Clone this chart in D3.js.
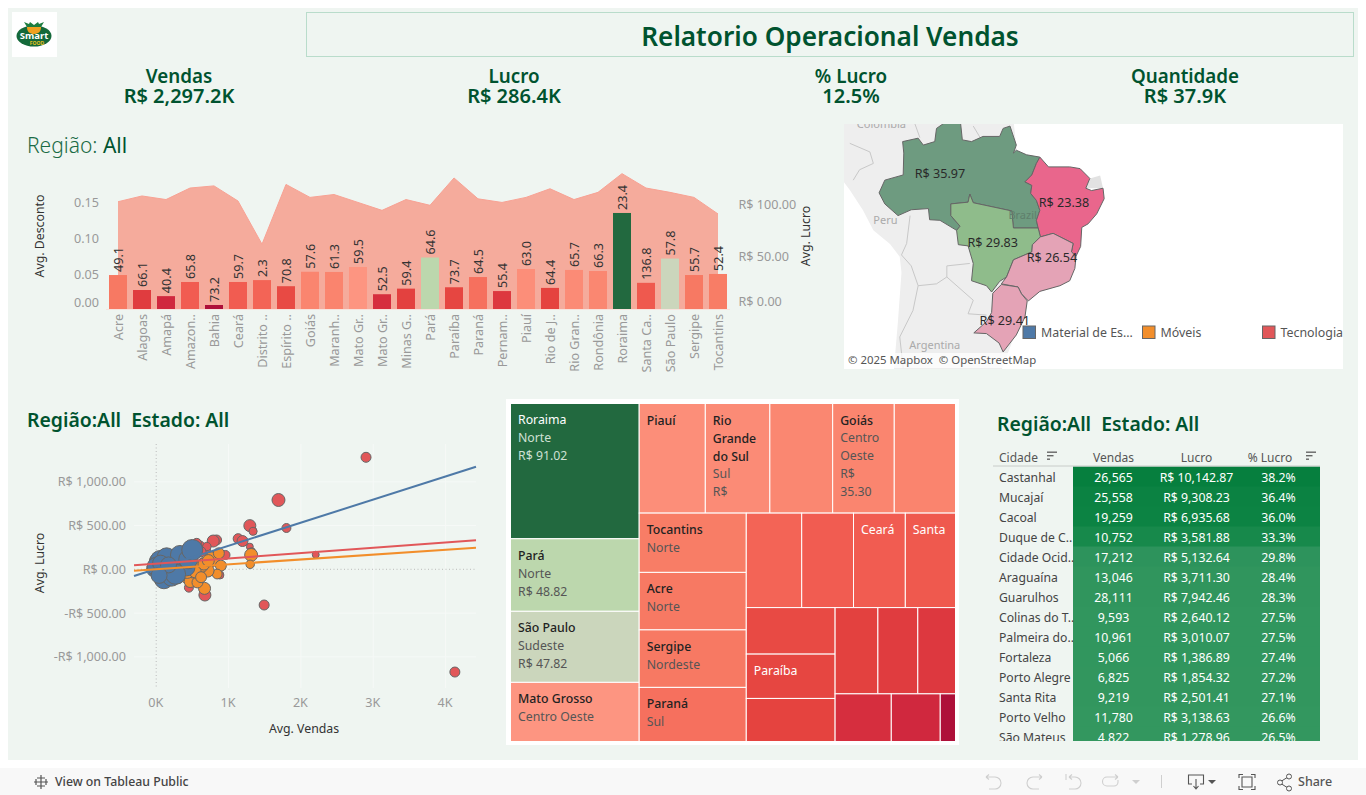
<!DOCTYPE html>
<html><head><meta charset="utf-8">
<script src="https://cdn.jsdelivr.net/npm/d3@7/dist/d3.min.js"></script>
<style>
html,body{margin:0;padding:0;background:#fff;overflow:hidden}
svg{display:block}
text{font-family:"Noto Sans",sans-serif;white-space:pre}
</style></head><body>
<svg id="c" width="1366" height="795"></svg>
<script>
// ---------- data ----------
const states=["Acre","Alagoas","Amapá","Amazonas","Bahia","Ceará","Distrito Federal","Espírito Santo","Goiás","Maranhão","Mato Grosso","Mato Grosso do Sul","Minas Gerais","Pará","Paraíba","Paraná","Pernambuco","Piauí","Rio de Janeiro","Rio Grande do Sul","Rondônia","Roraima","Santa Catarina","São Paulo","Sergipe","Tocantins"];
const stateTicks=["Acre","Alagoas","Amapá","Amazon..","Bahia","Ceará","Distrito ..","Espírito ..","Goiás","Maranh..","Mato Gr..","Mato Gr..","Minas G..","Pará","Paraíba","Paraná","Pernam..","Piauí","Rio de J..","Rio Gran..","Rondônia","Roraima","Santa Ca..","São Paulo","Sergipe","Tocantins"];
const stateLucro=[32.2,18,12.2,25.6,3.8,25.6,27.4,21.6,35.3,35.1,39.8,14,19.3,48.82,20.6,30.3,17,37.9,20,37,36,91.02,24.8,47.82,32.2,33.2];
const stateDesconto=[0.149,0.157,0.152,0.168,0.171,0.150,0.090,0.173,0.155,0.159,0.148,0.137,0.152,0.144,0.182,0.153,0.148,0.155,0.167,0.152,0.162,0.188,0.168,0.162,0.155,0.132];
const stateBarLabels=["49.1","66.1","40.4","65.8","73.2","59.7","2.3","70.8","57.6","61.3","59.5","52.5","59.4","64.6","73.7","64.5","55.4","63.0","64.4","65.7","66.3","23.4","136.8","57.8","55.7","52.4"];
const lucroStops=[3.8,13,20,26,33,40,47.8,48.82,91.02];
const lucroColors=["#ae1039","#d32a3e","#e5433f","#f25e52","#f87c65","#fd9682","#cbd6bc","#bcd7ad","#22693f"];

const kpiNames=["Vendas","Lucro","% Lucro","Quantidade"];
const kpiValues=["R$ 2,297.2K","R$ 286.4K","12.5%","R$ 37.9K"];

const treeShape={t:"dice",c:[
 {t:"slice",c:["Roraima","Pará","São Paulo","Mato Grosso"]},
 {t:"slice",c:[
  {t:"dice",c:["Piauí","Rio Grande do Sul","Rondônia","Goiás","Maranhão"]},
  {t:"dice",c:[
   {t:"slice",c:["Tocantins","Acre","Sergipe","Paraná"]},
   {t:"slice",c:[
    {t:"dice",c:["Distrito Federal","Amazonas","Ceará","Santa Catarina"]},
    {t:"dice",c:[
     {t:"slice",c:["Espírito Santo","Paraíba","Rio de Janeiro"]},
     {t:"slice",c:[
      {t:"dice",c:["Minas Gerais","Alagoas","Pernambuco"]},
      {t:"dice",c:["Mato Grosso do Sul","Amapá","Bahia"]}]}]}]}]}]}]};
const treeLabels={"Roraima":[["Roraima"],["Norte","R$ 91.02"]],"Pará":[["Pará"],["Norte","R$ 48.82"]],"São Paulo":[["São Paulo"],["Sudeste","R$ 47.82"]],"Mato Grosso":[["Mato Grosso"],["Centro Oeste"]],"Piauí":[["Piauí"],[]],"Rio Grande do Sul":[["Rio","Grande","do Sul"],["Sul","R$"]],"Goiás":[["Goiás"],["Centro","Oeste","R$","35.30"]],"Tocantins":[["Tocantins"],["Norte"]],"Acre":[["Acre"],["Norte"]],"Sergipe":[["Sergipe"],["Nordeste"]],"Paraná":[["Paraná"],["Sul"]],"Ceará":[["Ceará"],[]],"Santa Catarina":[["Santa"],[]],"Paraíba":[["Paraíba"],[]]};
const treeWhite=["Roraima","Ceará","Santa Catarina","Paraíba"];

const categories=["Material de Es…","Móveis","Tecnologia"];
const catColors=["#4e79a7","#f28e2b","#e15759"];
// [avg vendas, avg lucro, quantidade]
const pointsTec=[[2900,1280,25],[1690,792,42],[1294,499,36],[1340,434,16],[1800,472,20],[2205,167,12],[4128,-1174,25],[1492,-408,25],[1133,350,25],[1193,323,30],[1294,259,12],[1317,202,16],[834,335,25],[788,323,36],[604,266,25],[696,221,16],[958,164,20],[880,-65,16],[673,-294,36],[452,-210,20],[800,170,14],[500,170,25],[640,80,20],[560,300,22],[700,260,18],[620,200,25]];
const pointsMov=[[1312,164,42],[1299,57,18],[765,114,56],[866,183,30],[894,42,30],[843,-54,24],[710,-15,42],[581,-65,36],[668,-218,36],[535,-122,48],[420,-84,42],[627,38,42],[470,-140,36],[570,-150,30],[500,-30,36],[660,60,36],[430,-30,42],[540,-30,36],[620,-90,30],[720,100,36]];
const pointsMat=[[300,-90,42],[100,30,80],[0,40,50],[-30,0,56],[60,-30,70],[150,-10,90],[270,20,70],[420,20,70],[-40,30,36],[20,90,70],[120,60,90],[220,80,90],[52,106,90],[6,30,90],[236,106,90],[144,137,90],[107,-114,90],[213,-84,90],[268,-57,100],[328,164,90],[443,114,90],[498,221,110],[60,70,64],[170,50,64],[40,-70,64]];
const trendX=[-307,4420];
const trendLines=[[-76,1172],[45,331],[-16,247]];
const trendColors=["#4e79a7","#e15759","#f28e2b"];

const regionNames=["Norte","Nordeste","Centro Oeste","Sudeste","Sul"];
const regionValues=["R$ 35.97","R$ 23.38","R$ 29.83","R$ 26.54","R$ 29.41"];
const regionColors=["#6e9b80","#e9668c","#8fbc8b","#e4a3b6","#e4a3b6"];
const regionLabelAt=[[-63.4,-4.7],[-41.8,-9.7],[-54.2,-16.4],[-43.9,-18.9],[-52.1,-28.9]];
const regionRings=[
[[-69.9,.8],[-67.2,1.4],[-66.3,.2],[-64.3,.8],[-64,3.1],[-61.4,4.9],[-59.9,4.9],[-59.5,1.1],[-57.9,.8],[-55.9,1.7],[-53,1.7],[-52.4,3.1],[-51.2,3.5],[-50.1,.2],[-50.6,-1.2],[-50.1,-.7],[-48.3,-1.5],[-46,-1.9],[-46.6,-3],[-47.4,-5],[-48.6,-6.2],[-47.4,-6.8],[-47.6,-8.2],[-46.6,-9.4],[-46,-11.1],[-46.6,-12.8],[-46.3,-14.1],[-48.3,-14.1],[-50.6,-14.1],[-50.9,-11.2],[-57.6,-9.8],[-58.2,-8.3],[-58.5,-9.7],[-61.5,-10],[-61.5,-12],[-59.9,-13.8],[-60.5,-14.5],[-63.4,-12.8],[-65.2,-12.7],[-65.4,-10.8],[-68.4,-11],[-70.7,-12],[-73,-10],[-74,-8.1],[-73,-5.9],[-69.8,-5],[-69.7,-1.2]],
[[-46,-1.9],[-44.5,-3.6],[-40.8,-3.6],[-39,-3.9],[-37.3,-5.6],[-38,-7.3],[-37,-7.7],[-35,-7.3],[-34.8,-9.1],[-36.1,-11.7],[-37.6,-13.4],[-38.7,-14],[-38.9,-17.2],[-39.7,-18.8],[-40.5,-18.1],[-40.2,-16.7],[-43.7,-15],[-45.9,-15.6],[-46.3,-14.1],[-46.6,-12.8],[-46,-11.1],[-46.6,-9.4],[-47.6,-8.2],[-47.4,-6.8],[-48.6,-6.2],[-47.4,-5],[-46.6,-3]],
[[-58.2,-8.3],[-57.6,-9.8],[-50.9,-11.2],[-50.6,-14.1],[-46.3,-14.1],[-45.9,-15.6],[-47.3,-16.9],[-47.4,-18.1],[-50.6,-19.4],[-51.8,-22.2],[-53,-22.9],[-54.4,-24.6],[-55.3,-23.6],[-57.9,-22.8],[-57.6,-20],[-58.5,-17.1],[-60.2,-16.9],[-60.5,-14.5],[-59.9,-13.8],[-61.5,-12],[-61.5,-10],[-58.5,-9.7]],
[[-45.9,-15.6],[-43.7,-15],[-40.2,-16.7],[-40.5,-18.1],[-39.7,-18.8],[-39.9,-20.8],[-40.8,-22.8],[-42.5,-23.6],[-46,-24.5],[-48,-26],[-49.2,-24.9],[-49.8,-23.8],[-52.7,-23.3],[-51.8,-22.2],[-50.6,-19.4],[-47.4,-18.1],[-47.3,-16.9]],
[[-52.7,-23.4],[-49.8,-23.8],[-49.2,-24.9],[-48.2,-26],[-48.6,-28.5],[-50.1,-31.2],[-52.4,-33.7],[-53.1,-32.4],[-55.3,-31],[-57.5,-30.9],[-55.3,-29.2],[-54.4,-27.8],[-54.2,-24.8]]];
const landRing=[[-80.84,4.6],[-50.6,4.6],[-50.1,-.1],[-48.3,-18.3],[-48.3,-26],[-53,-37],[-71.5,-37],[-70.7,-29],[-70.1,-21.5],[-70.4,-18.9],[-72.1,-16.8],[-75,-14.5],[-76.8,-11.1],[-79.1,-7.6],[-80.84,-5.3]];
const landRing2=[[-37.3,-5.6],[-35.5,-5.1],[-35,-7.3],[-38,-7.3]];
const borderLines=[[[-79.1,.5],[-75.6,-1],[-75,-3],[-77.4,-4.1],[-78.5,-5.9]],[[-68.6,-12],[-69.2,-16.7],[-70.1,-18.6],[-68.4,-20.4],[-67.2,-23.6]],[[-67.2,-23.6],[-64,-23.3],[-62.2,-22.2],[-62.2,-20.4],[-58.2,-20]],[[-62.2,-22.2],[-57.6,-25.9],[-58.5,-28],[-55.3,-28.2]],[[-67.2,-23.6],[-68.1,-27.5],[-70.4,-31.5],[-69.8,-36]],[[-67.8,4],[-66.9,1.5]],[[-57.6,3.5],[-56.4,1.5]]];
const mapNames=["Brazil","Peru","Colombia","Argentina"];
const mapNameAt=[[-49,-12],[-72.9,-12.9],[-73.6,3.6],[-64.3,-32.8]];

const cidades=["Castanhal","Mucajaí","Cacoal","Duque de C..","Cidade Ocid..","Araguaína","Guarulhos","Colinas do T..","Palmeira do..","Fortaleza","Porto Alegre","Santa Rita","Porto Velho","São Mateus"];
const cidVendas=[26565,25558,19259,10752,17212,13046,28111,9593,10961,5066,6825,9219,11780,4822];
const cidLucro=[10142.87,9308.23,6935.68,3581.88,5132.64,3711.30,7942.46,2640.12,3010.07,1386.89,1854.32,2501.41,3138.63,1278.96];
const cidPct=[38.2,36.4,36.0,33.3,29.8,28.4,28.3,27.5,27.5,27.4,27.2,27.1,26.6,26.5];

// ---------- setup ----------
const DG="#00532f", GR="#999", AX="#444";
const svg=d3.select("#c");
svg.append("rect").attr("x",8).attr("y",8).attr("width",1350).attr("height",752).attr("fill","#eff5f1");
svg.append("rect").attr("x",0).attr("y",768).attr("width",1366).attr("height",27).attr("fill","#f8f8f8");
const txt=(g,x,y,s,o={})=>g.append("text").attr("x",x).attr("y",y+3.2).text(s)
  .attr("font-size",o.size||12).attr("fill",o.fill||AX).attr("font-weight",o.w||400)
  .attr("text-anchor",o.a||"start").attr("dominant-baseline","middle");
const lucroColor=d3.scaleLinear().domain(lucroStops).range(lucroColors);
const byState=new Map(states.map((s,i)=>[s,stateLucro[i]]));

// logo
const logo=svg.append("g");
logo.append("rect").attr("x",12).attr("y",12).attr("width",45).attr("height",45).attr("fill","#fff");
logo.append("ellipse").attr("cx",34).attr("cy",36).attr("rx",17.5).attr("ry",10.5).attr("fill","#14693a");
logo.append("path").attr("d","M27 27h14c0 5-3 7-7 7s-7-2-7-7z").attr("fill","#f0a020");
logo.append("path").attr("d","M27 27l-3-5 5 2 1-2 4 3 4-3 1 2 5-2-3 5z").attr("fill","#1e7d3f");
logo.append("text").attr("x",34).attr("y",39).attr("text-anchor","middle").attr("font-size",9.5).attr("font-weight",700).attr("fill","#fff").text("Smart");
logo.append("text").attr("x",37).attr("y",44.5).attr("text-anchor","middle").attr("font-size",5).attr("font-weight",700).attr("fill","#e8c020").text("FOOD");

// title
svg.append("rect").attr("x",306.5).attr("y",12.5).attr("width",1047).attr("height",44).attr("fill","none").attr("stroke","#b9dccb");
txt(svg,830,35.5,"Relatorio Operacional Vendas",{size:26.2,fill:DG,w:600,a:"middle"});

// KPI
const kpiCx=[179,514,851,1185];
kpiNames.forEach((n,i)=>{
  const t=txt(svg,kpiCx[i],75,"",{size:20,fill:DG,w:600,a:"middle"});
  t.append("tspan").attr("x",kpiCx[i]).attr("font-size",18.8).text(n);
  t.append("tspan").attr("x",kpiCx[i]).attr("dy",19.6).text(kpiValues[i]);
});

// region title
const rt=txt(svg,27,143.5,"",{size:21,fill:"#1b6b45",w:300});
rt.append("tspan").text("Região: ");
rt.append("tspan").attr("font-weight",400).attr("fill",DG).text("All");

// ---------- bar + area chart ----------
const bx=d3.scaleBand().domain(states).range([106,730]).paddingInner(0.25).paddingOuter(0.125);
const yLucro=d3.scaleLinear().domain([0,100]).range([309,203.5]);
const yDesc=d3.scaleLinear().domain([0,0.15]).range([309,201]);
const cxb=s=>bx(s)+bx.bandwidth()/2;
const bar=svg.append("g");
const area=d3.area().x(d=>cxb(d[0])).y0(309).y1(d=>yDesc(d[1]));
const line=d3.line().x(d=>cxb(d[0])).y(d=>yDesc(d[1]));
const pairs=states.map((s,i)=>[s,stateDesconto[i]]);
bar.append("path").attr("d",area(pairs)).attr("fill","#f5ab9c");
bar.append("path").attr("d",line(pairs)).attr("fill","none").attr("stroke","#f8a294").attr("stroke-width",1);
bar.append("line").attr("x1",106).attr("x2",730).attr("y1",309.5).attr("y2",309.5).attr("stroke","#f7e3dd");
bar.selectAll("rect.b").data(states).join("rect").attr("class","b")
  .attr("x",d=>bx(d)).attr("width",bx.bandwidth())
  .attr("y",d=>yLucro(byState.get(d))).attr("height",d=>309-yLucro(byState.get(d)))
  .attr("fill",d=>lucroColor(byState.get(d)));
bar.selectAll("text.bl").data(states).join("text").attr("class","bl")
  .attr("transform",d=>`translate(${cxb(d)+1.5},${yLucro(byState.get(d))-3}) rotate(-90)`)
  .attr("dominant-baseline","middle").attr("font-size",12.6).attr("fill","#333")
  .text((d,i)=>stateBarLabels[i]);
// axes
const ax1=bar.append("g").attr("transform","translate(99,1)")
  .call(d3.axisLeft(yDesc).tickValues([0,0.05,0.1,0.15]).tickFormat(d3.format(".2f")).tickSize(0).tickPadding(0));
const ax2=bar.append("g").attr("transform","translate(738.5,0.5)")
  .call(d3.axisRight(yLucro).tickValues([0,50,100]).tickFormat(d=>"R$ "+d3.format(".2f")(d)).tickSize(0).tickPadding(0));
const axb=bar.append("g").attr("transform","translate(0,309)")
  .call(d3.axisBottom(bx).tickFormat((d,i)=>stateTicks[i]).tickSize(0).tickPadding(0));
[ax1,ax2,axb].forEach(a=>{a.select(".domain").remove();a.selectAll("text").attr("font-family",'"Noto Sans",sans-serif').attr("font-size",12.6).attr("fill",GR);});
axb.selectAll("text").attr("transform","translate(1.5,5) rotate(-90)").attr("text-anchor","end").attr("x",0).attr("y",0).attr("dy",0).attr("dominant-baseline","middle");
[ax1,ax2].forEach(a=>a.selectAll("g.tick").filter(d=>d===0).select("text").attr("transform","translate(0,-8)"));
txt(bar,0,0,"Avg. Desconto",{size:12.3,fill:"#333",a:"middle"}).attr("transform","translate(37.5,236) rotate(-90)");
txt(bar,0,0,"Avg. Lucro",{size:12.3,fill:"#333",a:"middle"}).attr("transform","translate(803,236) rotate(-90)");

// ---------- map ----------
const mapG=svg.append("g");
svg.append("clipPath").attr("id","mc").append("rect").attr("x",844).attr("y",124).attr("width",499).attr("height",245);
mapG.attr("clip-path","url(#mc)");
mapG.append("rect").attr("x",844).attr("y",124).attr("width",499).attr("height",245).attr("fill","#fff");
const proj=d3.geoMercator().scale(329).translate([1304,146.2]).center([0,0]).precision(0.2);
const geo=d3.geoPath(proj);
const poly=r=>({type:"Polygon",coordinates:[[...r,r[0]]]});
mapG.append("path").attr("d",geo(poly(landRing))).attr("fill","#eeeeee");
mapG.append("path").attr("d",geo(poly(landRing2))).attr("fill","#e2e2e2");
mapG.append("path").attr("d",geo({type:"MultiLineString",coordinates:borderLines})).attr("fill","none").attr("stroke","#c8c8c8");
mapG.selectAll("path.r").data(regionRings).join("path").attr("class","r").attr("d",d=>geo(poly(d)))
  .attr("fill",(d,i)=>regionColors[i]).attr("stroke","#666").attr("stroke-width",1);
mapNames.forEach((n,i)=>{const p=proj(mapNameAt[i]);txt(mapG,p[0],p[1]-3.2,n,{size:11,fill:i==0?"#5f7f6c":"#aaa",a:"middle"});});
regionValues.forEach((v,i)=>{const p=proj(regionLabelAt[i]);txt(mapG,p[0],p[1]-1.7,v,{size:12.6,fill:"#2a2a2a",a:"middle"});});
mapG.append("rect").attr("x",846).attr("y",353).attr("width",190).attr("height",15).attr("fill","#fff").attr("opacity",0.75);
txt(mapG,848,357.5,"© 2025 Mapbox  © OpenStreetMap",{size:11.4,fill:"#555"});
// legend
const legX=[1023,1142.5,1262.5];
categories.forEach((c,i)=>{
  svg.append("rect").attr("x",legX[i]).attr("y",326).attr("width",12.5).attr("height",12.5).attr("fill",catColors[i]).attr("stroke","#666");
  txt(svg,legX[i]+18,330,c,{size:12.4,fill:"#555"});
});

// ---------- scatter ----------
const sc=svg.append("g");
const sx=d3.scaleLinear().domain([-300,4420]).range([134.5,476]);
const sy=d3.scaleLinear().domain([-1000,1000]).range([656.8,481.8]);
const sr=d3.scaleSqrt().domain([0,100]).range([0,10]);
txt(sc,27,419,"Região:All  Estado: All",{size:19.4,fill:DG,w:600});
[1000,2000,3000,4000].forEach(v=>sc.append("line").attr("x1",sx(v)).attr("x2",sx(v)).attr("y1",444).attr("y2",688).attr("stroke","#f6f9f7"));
[-1000,-500,500,1000].forEach(v=>sc.append("line").attr("x1",134).attr("x2",476).attr("y1",sy(v)).attr("y2",sy(v)).attr("stroke","#f6f9f7"));
sc.append("line").attr("x1",sx(0)).attr("x2",sx(0)).attr("y1",444).attr("y2",688).attr("stroke","#bbb").attr("stroke-dasharray","1,2.5");
sc.append("line").attr("x1",134).attr("x2",476).attr("y1",sy(0)).attr("y2",sy(0)).attr("stroke","#bbb").attr("stroke-dasharray","1,2.5");
const axX=sc.append("g").attr("transform","translate(-1,688)").call(d3.axisBottom(sx).tickValues([0,1000,2000,3000,4000]).tickFormat(d=>d/1000+"K").tickSize(0).tickPadding(10.5));
const axY=sc.append("g").attr("transform","translate(126,0)").call(d3.axisLeft(sy).tickValues([-1000,-500,0,500,1000]).tickFormat(d=>(d<0?"-":"")+"R$ "+d3.format(",.2f")(Math.abs(d))).tickSize(0).tickPadding(0));
[axX,axY].forEach(a=>{a.select(".domain").remove();a.selectAll("text").attr("font-family",'"Noto Sans",sans-serif').attr("font-size",12.6).attr("fill",GR);});
txt(sc,304,726.5,"Avg. Vendas",{size:12.3,fill:"#333",a:"middle"});
txt(sc,0,0,"Avg. Lucro",{size:12.3,fill:"#333",a:"middle"}).attr("transform","translate(37,563) rotate(-90)");
[[pointsTec,2],[pointsMov,1],[pointsMat,0]].forEach(([pts,ci])=>{
  sc.append("g").selectAll("circle").data(pts).join("circle")
   .attr("cx",d=>sx(d[0])).attr("cy",d=>sy(d[1])).attr("r",d=>sr(d[2]))
   .attr("fill",catColors[ci]).attr("stroke","#666").attr("stroke-width",1);
});
trendLines.forEach((l,i)=>{
  sc.append("line").attr("x1",sx(trendX[0])).attr("x2",sx(trendX[1])).attr("y1",sy(l[0])).attr("y2",sy(l[1]))
    .attr("stroke",trendColors[i]).attr("stroke-width",2);
});

// ---------- treemap ----------
svg.append("rect").attr("x",506).attr("y",399).attr("width",453).attr("height",346).attr("fill","#fff");
const root=d3.hierarchy(treeShape,d=>d.c?d.c.map(x=>typeof x==="string"?{n:x}:x):null)
  .sum(d=>d.n?byState.get(d.n):0);
d3.treemap().size([445,338]).round(false).tile((n,a,b,c,e)=>
  (n.data.t==="dice"?d3.treemapDice:d3.treemapSlice)(n,a,b,c,e))(root);
const tm=svg.append("g").attr("transform","translate(510.5,403.5)");
const leaves=tm.selectAll("g").data(root.leaves()).join("g").attr("transform",d=>`translate(${d.x0},${d.y0})`);
leaves.append("rect").attr("width",d=>d.x1-d.x0).attr("height",d=>d.y1-d.y0)
  .attr("fill",d=>lucroColor(byState.get(d.data.n))).attr("stroke","#fff").attr("stroke-width",1);
leaves.each(function(d){
  const lab=treeLabels[d.data.n]; if(!lab) return;
  const g=d3.select(this),white=treeWhite.includes(d.data.n);let y=14.5;
  lab[0].forEach(t=>{txt(g,7.5,y,t,{size:12.3,fill:white?"#fff":"#222",w:white?400:500});y+=18;});
  lab[1].forEach(t=>{txt(g,7.5,y,t,{size:12.3,fill:d.data.n==="Roraima"?"#cfe0d4":"#555"});y+=18;});
});

// ---------- table ----------
const tb=svg.append("g");
txt(tb,997,423,"Região:All  Estado: All",{size:19.4,fill:DG,w:600});
svg.append("clipPath").attr("id","tc").append("rect").attr("x",990).attr("y",466).attr("width",340).attr("height",275);
const pctColor=d3.scaleLinear().domain([26.5,29.8,33.3,36,38.2]).range(["#33975f","#2d935c","#17894b","#0c8343","#067f3e"]);
const rowY=d3.scaleBand().domain(cidades).range([466.5,746.5]);
const body=tb.append("g").attr("clip-path","url(#tc)");
const row=body.selectAll("g").data(cidades).join("g").attr("transform",d=>`translate(0,${rowY(d)})`);
row.append("rect").attr("x",1073).attr("width",247).attr("height",rowY.bandwidth()+.5).attr("fill",(d,i)=>pctColor(cidPct[i]));
row.each(function(d,i){const g=d3.select(this);
  txt(g,999,9,d,{size:12.2,fill:"#444"});
  txt(g,1113.5,9,d3.format(",")(cidVendas[i]),{size:12.3,fill:"#fff",a:"middle"});
  txt(g,1196.5,9,"R$ "+d3.format(",.2f")(cidLucro[i]),{size:12.3,fill:"#fff",a:"middle"});
  txt(g,1278.5,9,d3.format(".1f")(cidPct[i])+"%",{size:12.3,fill:"#fff",a:"middle"});
});
tb.append("line").attr("x1",993).attr("x2",1320).attr("y1",466).attr("y2",466).attr("stroke","#c8ccc9");
const heads=[["Cidade",999,"start"],["Vendas",1113.5,"middle"],["Lucro",1196.5,"middle"],["% Lucro",1270,"middle"]];
heads.forEach(h=>txt(tb,h[1],455.5,h[0],{size:12,fill:"#555",a:h[2]}));
[1047,1306].forEach(x=>{
  [10,6.5,3].forEach((w,i)=>tb.append("rect").attr("x",x).attr("y",451.5+i*3.5).attr("width",w).attr("height",1.4).attr("fill","#666"));
});

// ---------- footer ----------
const ft=svg.append("g");
ft.append("path").attr("d","M41 775v14M34 782h14M37 778h8M37 786h8M36 779v6M46 779v6").attr("stroke","#555").attr("stroke-width",1.2).attr("fill","none");
txt(ft,55,779.5,"View on Tableau Public",{size:12.3,fill:"#444",w:500});
const ic="#cfcfcf";
const ps=[
 "M986 777h3M986 777l3-2.5M986 777l3 2.5M989 777h6a6 6 0 0 1 0 12h-6",
 "M1042 777h-3M1042 777l-3-2.5M1042 777l-3 2.5M1039 777h-6a6 6 0 0 0 0 12h6",
 "M1066 774v6M1069 777l3-2.5M1069 777l3 2.5M1069 777h6a6 6 0 0 1 0 12h-6",
 "M1118 777l-3-2.5M1118 777l-3 2.5M1118 777h-11a4 4 0 0 0 0 9h7a4 4 0 0 0 4-4v-2"];
ps.forEach(d=>ft.append("path").attr("d",d).attr("fill","none").attr("stroke",ic).attr("stroke-width",1.1));
ft.append("path").attr("d","M1132 780h8l-4 4z").attr("fill",ic);
ft.append("line").attr("x1",1161.5).attr("x2",1161.5).attr("y1",775).attr("y2",788).attr("stroke",ic);
ft.append("path").attr("d","M1192 784h-3.5v-9h15v9h-3.5M1196 779v9M1193.5 786l2.5 3 2.5-3").attr("fill","none").attr("stroke","#555").attr("stroke-width",1.1);
ft.append("path").attr("d","M1208 780h8l-4 4z").attr("fill","#555");
ft.append("path").attr("d","M1239 778v-3.5h4M1251 774.5h4v3.5M1255 786v3.5h-4M1243 789.5h-4V786M1242 777h10v10h-10z").attr("fill","none").attr("stroke","#555").attr("stroke-width",1.1);
ft.append("path").attr("d","M1280 782l8-5M1280 783l8 5").attr("stroke","#555");
[[1280,782.5],[1289,776.5],[1289,788.5]].forEach(p=>ft.append("circle").attr("cx",p[0]).attr("cy",p[1]).attr("r",2.5).attr("fill","#f8f8f8").attr("stroke","#555"));
txt(ft,1298,779.5,"Share",{size:12.5,fill:"#555",w:500});
</script></body></html>
